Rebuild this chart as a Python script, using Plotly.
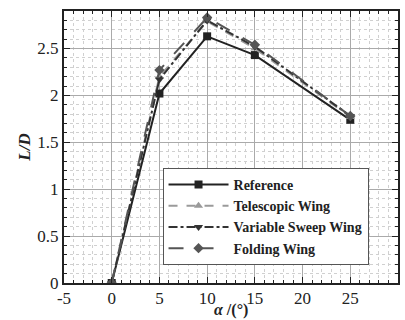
import plotly.graph_objects as go

alpha = [0, 5, 10, 15, 25]
reference = [0.0, 2.02, 2.63, 2.43, 1.74]
telescopic = [0.0, 2.20, 2.79, 2.50, 1.77]
variable_sweep = [0.0, 2.17, 2.80, 2.52, 1.78]
folding = [0.0, 2.27, 2.83, 2.54, 1.78]

x_tickvals = [-5, 0, 5, 10, 15, 20, 25, 30]
x_ticktext = ["-5", "0", "5", "10", "15", "20", "25", "30"]

series = [
    ("Reference", reference, "#222222", "solid", "square"),
    ("Telescopic Wing", telescopic, "#9a9a9a", "dash", "triangle-up"),
    ("Variable Sweep Wing", variable_sweep, "#333333", "dashdot", "triangle-down"),
    ("Folding Wing", folding, "#555555", "longdash", "diamond"),
]

fig = go.Figure()
for name, vals, color, dash, sym in series:
    fig.add_trace(go.Scatter(
        x=alpha, y=vals, name=name, mode="lines+markers",
        line=dict(color=color, width=2, dash=dash),
        marker=dict(symbol=sym, size=8, color=color),
    ))

font_family = "Liberation Serif"
fig.update_layout(
    width=405, height=320,
    margin=dict(l=64, r=7, t=11, b=37),
    paper_bgcolor="white", plot_bgcolor="white",
    font=dict(family=font_family, size=17, color="#222"),
    showlegend=True,
    legend=dict(
        x=0.295, y=0.423, xanchor="left", yanchor="top",
        bgcolor="white", bordercolor="#555", borderwidth=1,
        font=dict(family=font_family, size=14, color="#222", weight="bold"),
        itemwidth=60, tracegroupgap=0,
    ),
    annotations=[dict(
        text="<b><i>α</i> /(°)</b>", xref="paper", yref="paper",
        x=0.5, y=-0.14, xanchor="center", yanchor="bottom", showarrow=False,
        font=dict(family=font_family, size=16, color="#222"),
    )],
)
fig.update_xaxes(
    range=[-5, 30], tickvals=x_tickvals, ticktext=x_ticktext, automargin=False,
    showline=True, linecolor="#222", linewidth=2, mirror="ticks",
    ticks="inside", ticklen=6, tickcolor="#222", ticklabelstandoff=-1,
    showgrid=True, gridcolor="#aaaaaa", gridwidth=1,
    minor=dict(dtick=1, ticks="inside", ticklen=3, tickcolor="#222",
               showgrid=True, gridcolor="#d0d0d0", griddash="dot"),
    zeroline=False,
)
fig.update_yaxes(
    range=[0, 2.9], dtick=0.5, automargin=False,
    showline=True, linecolor="#222", linewidth=2, mirror="ticks",
    ticks="inside", ticklen=6, tickcolor="#222",
    showgrid=True, gridcolor="#aaaaaa", gridwidth=1,
    minor=dict(dtick=0.1, ticks="inside", ticklen=3, tickcolor="#222",
               showgrid=True, gridcolor="#d0d0d0", griddash="dot"),
    zeroline=False,
    title=dict(text="<b><i>L/D</i></b>", standoff=2, font=dict(size=17)),
)

fig.write_html("out.html")
